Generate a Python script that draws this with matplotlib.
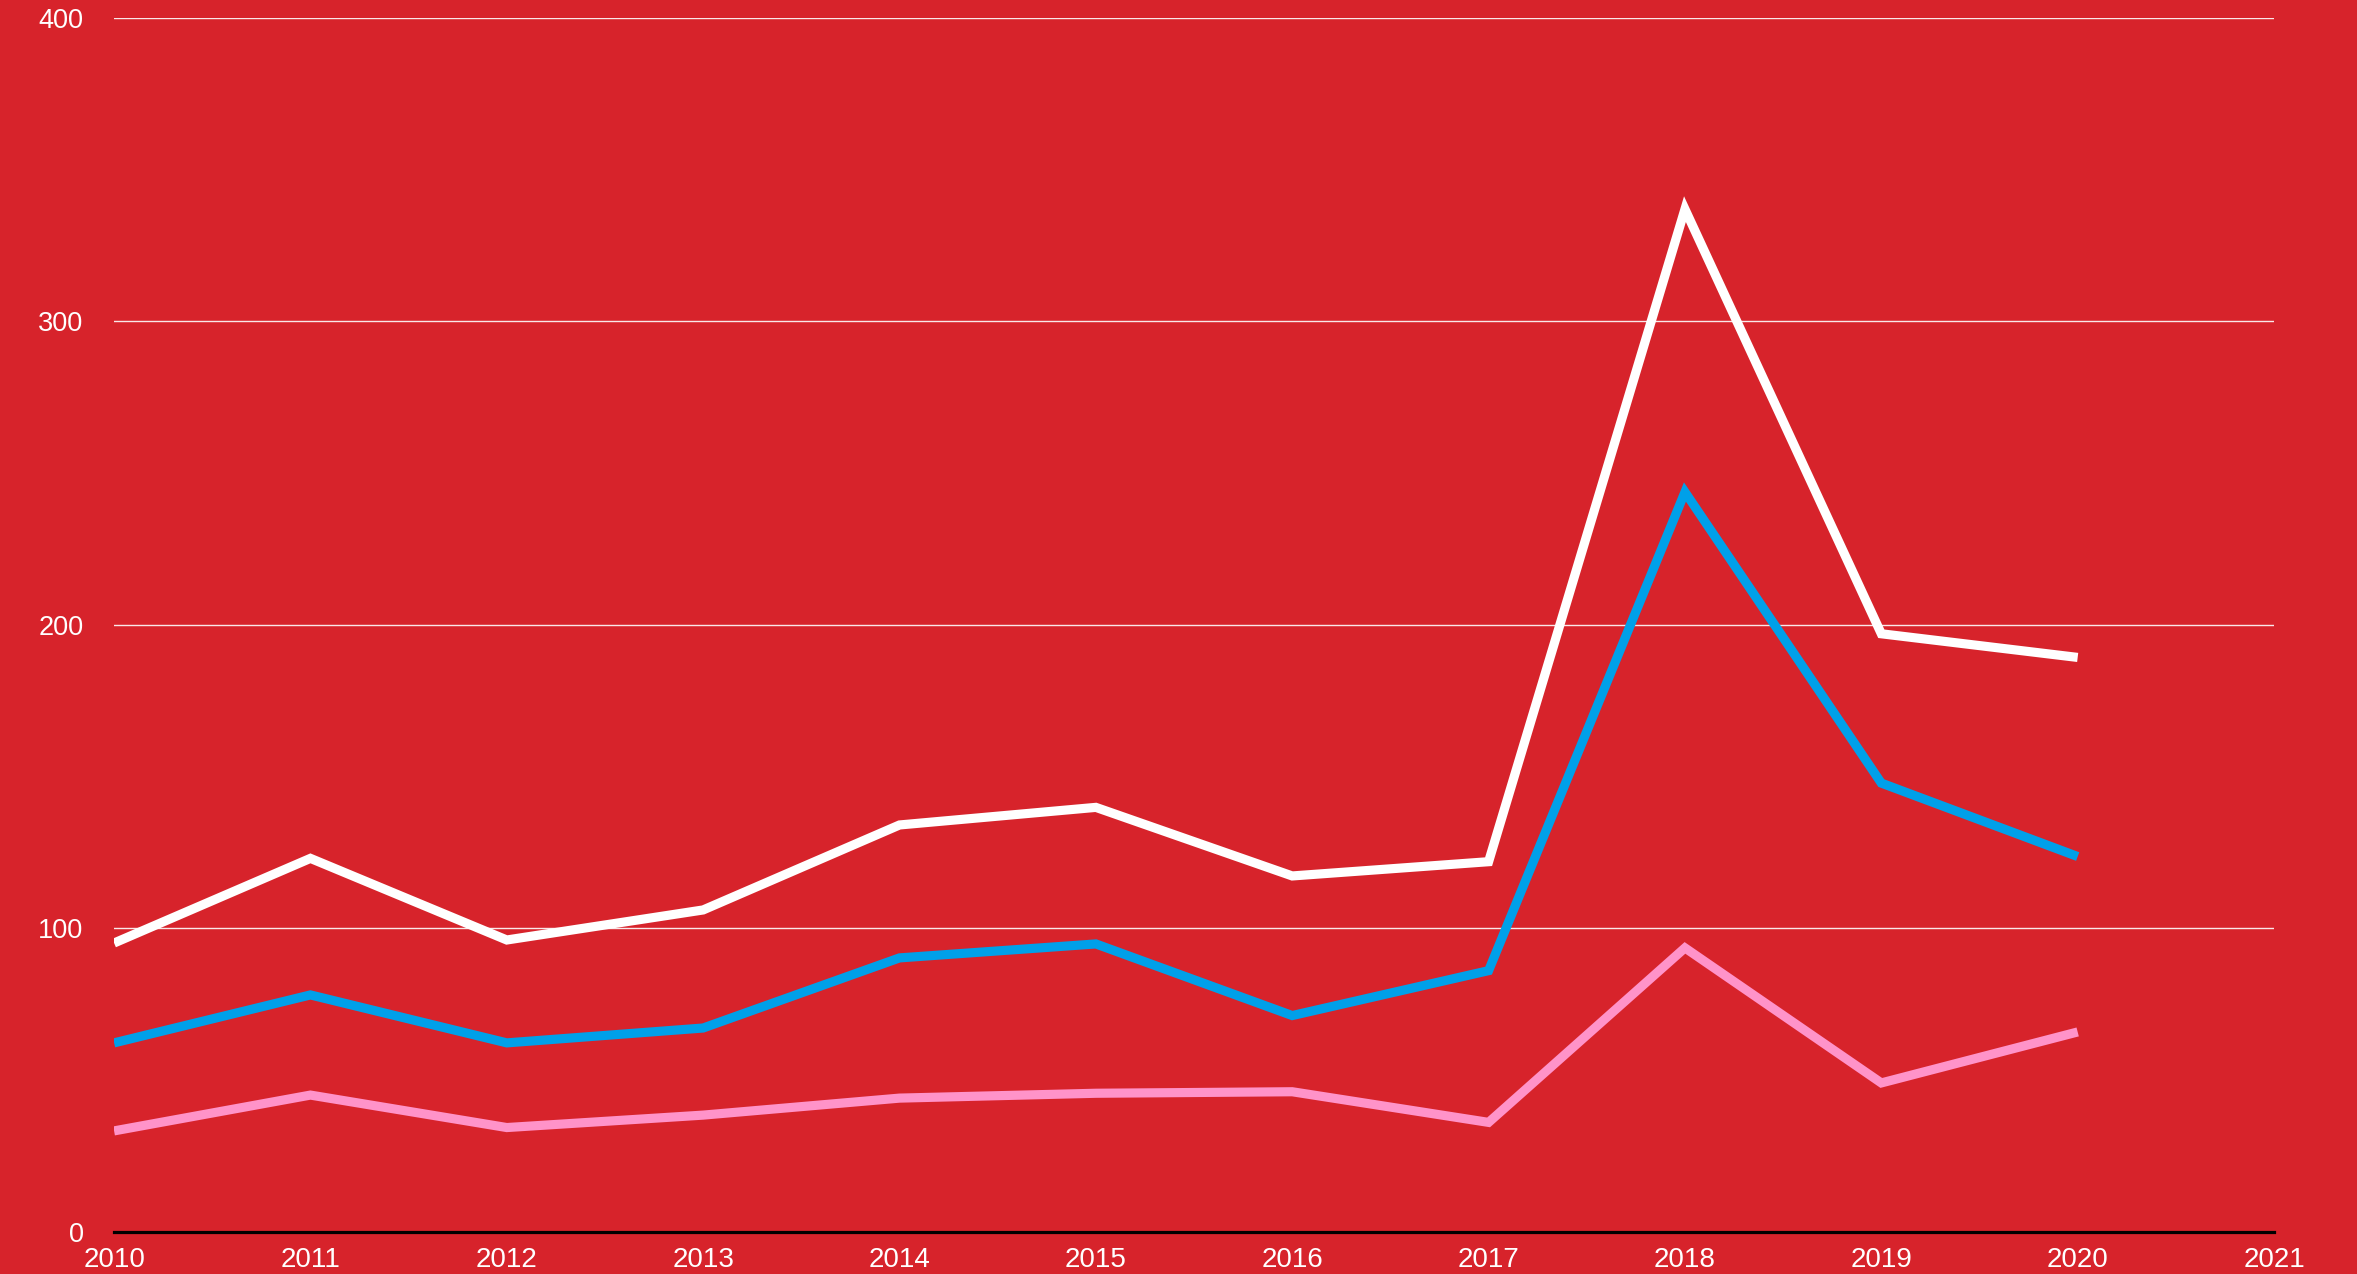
import matplotlib.pyplot as plt

years = [2010, 2011, 2012, 2013, 2014, 2015, 2016, 2017, 2018, 2019, 2020]
white_vals = [95.2, 123.1, 96.2, 106.1, 134.1, 139.9, 117.3, 122.0, 337.0, 197.1, 189.3]
blue_vals = [62.3, 78.1, 62.3, 67.2, 90.3, 94.9, 71.3, 86.1, 243.8, 147.9, 123.7]
pink_vals = [33.3, 45.1, 34.4, 38.5, 44.1, 45.7, 46.2, 36.1, 93.6, 49.1, 65.9]

x_ticks = list(range(2010, 2022))
y_ticks = [0, 100, 200, 300, 400]

bg = "#D7232B"

plt.rcParams['font.family'] = ['Liberation Sans', 'DejaVu Sans']

fig = plt.figure(figsize=(23.57, 12.74), dpi=100, facecolor=bg)
ax = fig.add_axes([0.0484, 0.033, 0.9164, 0.9529])
ax.set_facecolor(bg)

style = dict(lw=6.6, solid_capstyle='butt', solid_joinstyle='miter')
ax.plot(years, white_vals, color="white", **style)
ax.plot(years, blue_vals, color="#00A0E9", **style)
ax.plot(years, pink_vals, color="#FF93C9", **style)

ax.set_xlim(2010, 2021)
ax.set_ylim(0, 400)
ax.set_xticks(x_ticks)
ax.set_yticks(y_ticks)
ax.set_xticklabels([str(t) for t in x_ticks])

# white grid lines, only horizontal
ax.grid(axis='y', color='white', lw=1.0, alpha=0.9)
ax.set_axisbelow(True)

for s in ['top', 'right', 'left']:
    ax.spines[s].set_visible(False)
ax.spines['bottom'].set_color('black')
ax.spines['bottom'].set_linewidth(2.3)
ax.spines['bottom'].set_zorder(1.5)

ax.tick_params(axis='x', length=0, pad=11, labelsize=20, labelcolor='white')
ax.tick_params(axis='y', length=0, pad=22, labelsize=19.5, labelcolor='white')

fig.savefig("out.png", dpi=100, facecolor=bg)
